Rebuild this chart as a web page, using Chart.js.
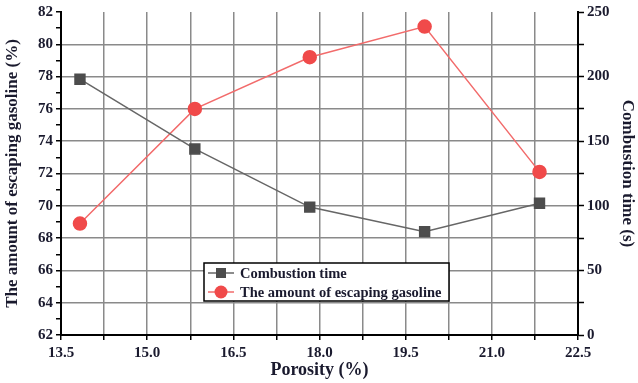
<!DOCTYPE html>
<html>
<head>
<meta charset="utf-8">
<script src="https://cdn.jsdelivr.net/npm/chart.js@4.4.0/dist/chart.umd.min.js"></script>
<style>
  html, body { margin: 0; padding: 0; background: #fff; }
  #wrap { width: 638px; height: 383px; }
</style>
</head>
<body>
<div id="wrap"><canvas id="chart" width="638" height="383"></canvas></div>
<script>
// ---- data ----
const porosity = [13.83, 15.83, 17.83, 19.83, 21.83];
const combustionTime = [198, 144, 99, 80, 102];          // s, right axis
const escapingGasoline = [68.9, 76.0, 79.2, 81.1, 72.1]; // %, left axis

const seriesLabels = ["Combustion time", "The amount of escaping gasoline"];

const FONT = "'Liberation Serif', 'DejaVu Serif', serif";
const TEXT = "#1a1a2e";
const GRAY = "#4d4d4d";
const GRAY_LINE = "#666666";
const RED = "#f04a4a";
const RED_LINE = "#f26b6b";

// legend drawn inside the plot area (like the original)
const insideLegend = {
    id: "insideLegend",
    afterDraw(chart) {
        const ctx = chart.ctx;
        const x0 = 204, y0 = 263, w = 245, h = 38;
        ctx.save();
        ctx.fillStyle = "#fff";
        ctx.fillRect(x0, y0, w, h);
        ctx.strokeStyle = "#000";
        ctx.lineWidth = 1.5;
        ctx.strokeRect(x0, y0, w, h);

        ctx.font = "bold 14.5px " + FONT;
        ctx.textBaseline = "middle";
        const rows = [
            { y: y0 + 10, color: GRAY, line: GRAY_LINE, style: "rect", text: seriesLabels[0] },
            { y: y0 + 29, color: RED, line: RED_LINE, style: "circle", text: seriesLabels[1] }
        ];
        rows.forEach(r => {
            ctx.strokeStyle = r.line;
            ctx.lineWidth = 1.5;
            ctx.beginPath();
            ctx.moveTo(x0 + 4, r.y);
            ctx.lineTo(x0 + 30, r.y);
            ctx.stroke();
            ctx.fillStyle = r.color;
            if (r.style === "rect") {
                ctx.fillRect(x0 + 12, r.y - 5, 10, 10);
            } else {
                ctx.beginPath();
                ctx.arc(x0 + 17, r.y, 6.5, 0, Math.PI * 2);
                ctx.fill();
            }
            ctx.fillStyle = TEXT;
            ctx.fillText(r.text, x0 + 36, r.y + 1);
        });
        ctx.restore();
    }
};

const ctx = document.getElementById("chart").getContext("2d");

new Chart(ctx, {
    type: "line",
    data: {
        datasets: [
            {
                label: seriesLabels[0],
                data: porosity.map((p, i) => ({ x: p, y: combustionTime[i] })),
                yAxisID: "y2",
                borderColor: GRAY_LINE,
                backgroundColor: GRAY,
                pointBorderColor: GRAY,
                borderWidth: 1.5,
                pointStyle: "rect",
                pointRadius: 7,
                pointHoverRadius: 7,
                tension: 0
            },
            {
                label: seriesLabels[1],
                data: porosity.map((p, i) => ({ x: p, y: escapingGasoline[i] })),
                yAxisID: "y",
                borderColor: RED_LINE,
                backgroundColor: RED,
                pointBorderColor: RED,
                borderWidth: 1.5,
                pointStyle: "circle",
                pointRadius: 6.5,
                pointHoverRadius: 6.5,
                tension: 0
            }
        ]
    },
    options: {
        responsive: false,
        animation: false,
        layout: { padding: { top: 12, left: 0, right: 0, bottom: 0 } },
        plugins: {
            legend: { display: false },
            tooltip: { enabled: false }
        },
        scales: {
            x: {
                type: "linear",
                min: 13.5,
                max: 22.5,
                afterBuildTicks: s => {
                    const t = [];
                    for (let i = 0; i <= 12; i++) t.push({ value: 13.5 + i * 0.75 });
                    s.ticks = t;
                },
                afterFit: s => { s.height = 48; },
                border: { color: "#000", width: 2 },
                grid: {
                    color: c => (c.index === 0 || c.index === 12) ? "rgba(0,0,0,0)" : "#8a8a8a",
                    lineWidth: 1.5,
                    tickColor: "#000",
                    tickLength: 5,
                    tickWidth: 1.5
                },
                ticks: {
                    autoSkip: false,
                    maxRotation: 0,
                    padding: 4,
                    color: TEXT,
                    font: { family: FONT, size: 15, weight: "bold" },
                    callback: v => {
                        const k = Math.round((v - 13.5) / 0.75);
                        return k % 2 === 0 ? v.toFixed(1) : "";
                    }
                },
                title: {
                    display: true,
                    text: "Porosity (%)",
                    color: TEXT,
                    font: { family: FONT, size: 18, weight: "bold" },
                    padding: { top: 0, bottom: 2 }
                }
            },
            y: {
                position: "left",
                min: 62,
                max: 82,
                afterBuildTicks: s => {
                    const t = [];
                    for (let v = 62; v <= 82; v++) t.push({ value: v });
                    s.ticks = t;
                },
                afterFit: s => { s.width = 61; },
                border: { color: "#000", width: 2 },
                grid: {
                    color: c => (c.tick.value % 2 === 0 && c.tick.value !== 62 && c.tick.value !== 82) ? "#8a8a8a" : "rgba(0,0,0,0)",
                    lineWidth: 1.5,
                    tickColor: "#000",
                    tickLength: 5,
                    tickWidth: 1.5
                },
                ticks: {
                    autoSkip: false,
                    padding: 3,
                    color: TEXT,
                    font: { family: FONT, size: 15, weight: "bold" },
                    callback: v => (v % 2 === 0 ? v : "")
                },
                title: {
                    display: true,
                    text: "The amount of escaping gasoline (%)",
                    color: TEXT,
                    font: { family: FONT, size: 17, weight: "bold" },
                    padding: { top: 2, bottom: 0 }
                }
            },
            y2: {
                position: "right",
                min: 0,
                max: 250,
                afterBuildTicks: s => {
                    const t = [];
                    for (let v = 0; v <= 250; v += 25) t.push({ value: v });
                    s.ticks = t;
                },
                afterFit: s => { s.width = 60; },
                border: { color: "#000", width: 2 },
                grid: {
                    drawOnChartArea: false,
                    tickColor: "#000",
                    tickLength: 6,
                    tickWidth: 1.5
                },
                ticks: {
                    autoSkip: false,
                    padding: 3,
                    color: TEXT,
                    font: { family: FONT, size: 15, weight: "bold" },
                    callback: v => (v % 50 === 0 ? v : "")
                },
                title: {
                    display: true,
                    text: "Combustion time (s)",
                    color: TEXT,
                    font: { family: FONT, size: 17, weight: "bold" },
                    padding: { top: 0, bottom: 2 }
                }
            }
        }
    },
    plugins: [insideLegend]
});
</script>
</body>
</html>
